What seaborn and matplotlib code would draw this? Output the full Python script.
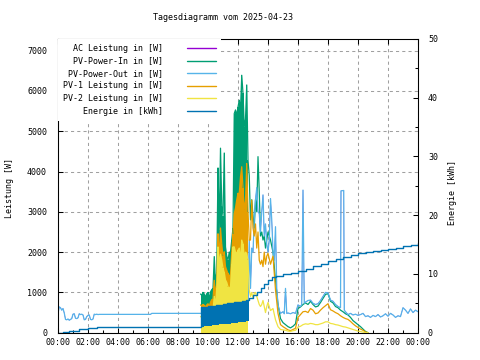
import pandas as pd
import matplotlib
matplotlib.use("Agg")
import matplotlib.pyplot as plt
import matplotlib.dates as mdates
from matplotlib.ticker import MultipleLocator
from matplotlib.lines import Line2D
import seaborn as sns

# gnuplot default colours
C_AC   = "#9400d3"
C_IN   = "#009e73"
C_OUT  = "#56b4e9"
C_PV1  = "#e69f00"
C_PV2  = "#f0e442"
C_E    = "#0072b2"
C_GRID = "#a0a0a0"

DAY = pd.Timestamp("2025-04-23")

# ── PV strings (W): 5 min until 14:00, then 10 min ─────────
pv_times = [
    "09:30", "09:35", "09:40", "09:45", "09:50", "09:55",
    "10:00", "10:05", "10:10", "10:15", "10:20", "10:25", "10:30", "10:35", "10:40", "10:45", "10:50", "10:55",
    "11:00", "11:05", "11:10", "11:15", "11:20", "11:25", "11:30", "11:35", "11:40", "11:45", "11:50", "11:55",
    "12:00", "12:05", "12:10", "12:15", "12:20", "12:25", "12:30", "12:35", "12:40", "12:45", "12:50", "12:55",
    "13:00", "13:05", "13:10", "13:15", "13:20", "13:25", "13:30", "13:35", "13:40", "13:45", "13:50", "13:55",
    "14:00", "14:10", "14:20", "14:30", "14:40", "14:50",
    "15:00", "15:10", "15:20", "15:30", "15:40", "15:50",
    "16:00", "16:10", "16:20", "16:30", "16:40", "16:50",
    "17:00", "17:10", "17:20", "17:30", "17:40", "17:50",
    "18:00", "18:10", "18:20", "18:30", "18:40", "18:50",
    "19:00", "19:10", "19:20", "19:30", "19:40", "19:50",
    "20:00", "20:10", "20:20", "20:30", "20:40",
]
pv_in = [
    960, 930, 1000, 960, 880, 970,
    1000, 850, 1010, 1070, 1100, 1890, 1250, 1500, 4090, 2550, 4580, 3150,
    2900, 4460, 2130, 1900, 1800, 2000, 2000, 2300, 2600, 5440, 5530, 5400,
    5600, 5770, 5530, 6390, 5940, 5110, 5300, 6150, 4280, 3900, 2800, 3300,
    2900, 2600, 3300, 3000, 4370, 3500, 2400, 2500, 2300, 2400, 2100, 2300,
    2500, 2300, 2000, 1300, 700, 350,
    250, 200, 150, 120, 160, 220,
    600, 640, 700, 740, 700, 780,
    700, 640, 660, 750, 850, 950,
    970, 780, 740, 650, 620, 560,
    520, 470, 440, 380, 300, 250,
    200, 150, 90, 30, 0,
]
pv1 = [
    690, 660, 700, 680, 640, 690,
    720, 650, 760, 820, 840, 1300, 980, 1200, 2460, 1900, 2600, 2200,
    1900, 2010, 1640, 1550, 1470, 1400, 1450, 2000, 2460, 2960, 3100, 3300,
    3460, 3460, 3870, 4120, 3600, 3040, 3290, 4200, 3000, 2300, 2300, 3290,
    2600, 2400, 2700, 2100, 2500, 1800, 1700, 1800, 1640, 2000, 1700, 1900,
    1970, 1700, 1900, 1060, 480, 200,
    150, 110, 70, 50, 80, 110,
    380, 450, 520, 530, 500, 600,
    560, 470, 490, 560, 620, 670,
    720, 570, 540, 500, 470, 420,
    380, 350, 330, 280, 220, 170,
    130, 90, 60, 20, 0,
]
pv2 = [
    400, 380, 420, 400, 380, 410,
    430, 400, 450, 500, 560, 900, 700, 1100, 2130, 1700, 1950, 1800,
    1600, 1500, 1310, 1250, 1140, 1100, 1150, 1700, 2130, 2130, 2000, 1970,
    2050, 2100, 1800, 2300, 2200, 1900, 2000, 1970, 1800, 1060, 900, 1000,
    850, 980, 1000, 900, 800, 700, 650, 700, 800, 650, 500, 650,
    750, 550, 600, 320, 150, 80,
    70, 60, 40, 30, 50, 60,
    140, 160, 200, 220, 210, 230,
    220, 200, 200, 220, 240, 270,
    270, 230, 220, 200, 190, 170,
    150, 140, 120, 100, 80, 60,
    40, 30, 15, 0, 0,
]

# ── PV-Power-Out / AC (W) ──────────────────────────────────
out_times = [
    "00:00", "00:05", "00:10", "00:15", "00:20", "00:25", "00:30", "00:35", "00:40", "00:45", "00:50", "00:55",
    "01:00", "01:05", "01:10", "01:15", "01:20", "01:25", "01:30", "01:35", "01:40", "01:45", "01:50", "01:55",
    "02:00", "02:05", "02:10", "02:15", "02:20", "02:25", "02:30", "02:35", "02:40", "02:45",
    "06:10", "06:15", "09:30", "12:40",
    "12:45", "12:50", "12:55", "13:00", "13:05", "13:10", "13:15", "13:20", "13:25", "13:30", "13:35", "13:40",
    "13:45", "13:50", "13:55", "14:00", "14:05", "14:10", "14:15", "14:20", "14:25", "14:30", "14:35", "14:40",
    "14:45", "14:50", "14:55", "15:00", "15:05", "15:10", "15:15", "15:20",
    "15:30", "15:40", "15:50", "16:00", "16:10", "16:15", "16:20", "16:25", "16:30", "16:40", "16:50",
    "17:00", "17:10", "17:20", "17:30", "17:40", "17:50", "18:00", "18:10", "18:20", "18:30", "18:40", "18:50",
    "18:52", "19:03", "19:05", "19:10", "19:20", "19:30", "19:40", "19:50",
    "20:00", "20:10", "20:20", "20:30", "20:40", "20:50", "21:00", "21:10", "21:20", "21:30", "21:40", "21:50",
    "22:00", "22:10", "22:20", "22:30", "22:40", "22:50", "23:00", "23:10", "23:20", "23:30", "23:40", "23:50",
    "24:00",
]
pv_out = [
    480, 640, 620, 560, 600, 490, 330, 320, 340, 310, 330, 350,
    460, 470, 360, 350, 370, 470, 450, 460, 440, 320, 330, 400,
    430, 440, 330, 320, 340, 460, 450, 460, 450, 455,
    455, 480, 480, 480,
    2300, 1100, 2100, 2000, 2800, 3300, 3600, 3000, 2960, 2500, 3000, 3420,
    2400, 2700, 2200, 2000, 2300, 3330, 2800, 2000, 1800, 2630, 1100, 700,
    560, 480, 500, 520, 470, 1100, 480, 490,
    470, 500, 480, 690, 650, 700, 3540, 730, 760, 800, 810,
    730, 700, 720, 800, 900, 1000, 990, 810, 780, 700, 650, 620,
    3520, 3530, 560, 520, 450, 480, 440, 460,
    430, 450, 480, 400, 420, 380, 430, 400, 450, 390, 420, 470,
    410, 480, 440, 380, 420, 400, 620, 560, 480, 590, 500, 560,
    520,
]

# ── Energie (kWh, right axis) ──────────────────────────────
energy_times = [
    "00:00", "00:20", "00:45", "01:25", "02:00", "02:35", "02:55",
    "09:30", "09:45", "10:00", "10:15", "10:30", "10:45", "11:00", "11:15", "11:30", "11:45",
    "12:00", "12:15", "12:30", "12:45", "13:00", "13:15", "13:30", "13:45", "14:00", "14:15", "14:30",
    "15:00", "15:30", "16:00", "16:30", "17:00", "17:30", "18:00", "18:30", "19:00", "19:30",
    "20:00", "20:30", "21:00", "21:30", "22:00", "22:30", "23:00", "23:30", "24:00",
]
energy = [
    0.0, 0.17, 0.34, 0.57, 0.74, 0.91, 1.05,
    4.40, 4.45, 4.55, 4.60, 4.70, 4.80, 4.90, 5.00, 5.10, 5.20,
    5.30, 5.45, 5.60, 5.85, 6.40, 7.00, 7.60, 8.30, 9.00, 9.40, 9.70,
    10.0, 10.2, 10.5, 10.9, 11.3, 11.7, 12.2, 12.5, 12.9, 13.2,
    13.5, 13.7, 13.9, 14.0, 14.3, 14.5, 14.7, 15.0, 15.2,
]
# second (lagging) counter that alternates with the first one in the morning
band_times = ["09:30", "09:45", "10:00", "10:15", "10:30", "10:45", "11:00",
              "11:15", "11:30", "11:45", "12:00", "12:15", "12:30", "12:45"]
band_low = [1.05, 1.10, 1.15, 1.25, 1.30, 1.40, 1.45,
            1.55, 1.60, 1.70, 1.80, 1.90, 2.00, 2.10]

LABELS = ["AC Leistung in [W]", "PV-Power-In in [W]", "PV-Power-Out in [W]",
          "PV-1 Leistung in [W]", "PV-2 Leistung in [W]", "Energie in [kWh]"]
COLORS = [C_AC, C_IN, C_OUT, C_PV1, C_PV2, C_E]


def to_time(lst):
    return DAY + pd.to_timedelta([s + ":00" for s in lst])


pv = pd.DataFrame({"time": to_time(pv_times), "pv_in": pv_in, "pv1": pv1, "pv2": pv2})
out = pd.DataFrame({"time": to_time(out_times), "pv_out": pv_out})
en = pd.DataFrame({"time": to_time(energy_times), "energy": energy})
band = pd.DataFrame({"time": to_time(band_times), "low": band_low}).merge(en, on="time")
dense = pv[pv["time"] <= DAY + pd.Timedelta("12:40:00")]

sns.set_theme(style="ticks")
plt.rcParams.update({
    "font.family": ["DejaVu Sans Mono", "DejaVu Sans"],
    "font.size": 6,
    "xtick.labelsize": 6,
    "ytick.labelsize": 6,
    "axes.labelsize": 6,
    "legend.fontsize": 6,
    "axes.edgecolor": "black",
    "axes.linewidth": 0.75,
    "xtick.color": "black",
    "ytick.color": "black",
    "text.color": "black",
    "axes.labelcolor": "black",
})

fig = plt.figure(figsize=(4.8, 3.6), dpi=100, facecolor="white")
ax = fig.add_axes([58 / 480, 1 - 332.7 / 360, 360 / 480, 293.7 / 360])
ax2 = ax.twinx()

kw = dict(estimator=None, lw=0.9)
# AC sits underneath PV-Power-Out (same readings)
sns.lineplot(data=out, x="time", y="pv_out", color=C_AC, ax=ax, zorder=1.5,
             estimator=None, lw=0.3)
ax.fill_between(dense["time"], 0, dense["pv_in"], step="mid", color=C_IN, lw=0, zorder=2)
sns.lineplot(data=pv, x="time", y="pv_in", color=C_IN, ax=ax, zorder=2.1, **kw)
sns.lineplot(data=out, x="time", y="pv_out", color=C_OUT, ax=ax, zorder=3, **kw)
ax.fill_between(dense["time"], 0, dense["pv1"], step="mid", color=C_PV1, lw=0, zorder=4)
sns.lineplot(data=pv, x="time", y="pv1", color=C_PV1, ax=ax, zorder=4.1, **kw)
ax.fill_between(dense["time"], 0, dense["pv2"], step="mid", color=C_PV2, lw=0, zorder=5)
sns.lineplot(data=pv, x="time", y="pv2", color=C_PV2, ax=ax, zorder=5.1, **kw)

ax2.fill_between(band["time"], band["low"], band["energy"], step="post", color=C_E, lw=0)
sns.lineplot(data=en, x="time", y="energy", color=C_E, ax=ax2, drawstyle="steps-post",
             estimator=None, lw=1.0)

# axes
ax.set_xlim(DAY, DAY + pd.Timedelta(days=1))
ax.set_ylim(0, 7290)
ax2.set_ylim(0, 50)
ax.set_yticks(range(0, 7001, 1000))
ax2.set_yticks(range(0, 51, 10))
ax2.yaxis.set_minor_locator(MultipleLocator(5))
ax.xaxis.set_major_locator(mdates.HourLocator(byhour=range(0, 24, 2)))
ax.xaxis.set_minor_locator(mdates.HourLocator())
ax.xaxis.set_major_formatter(mdates.DateFormatter("%H:%M"))

ax.grid(True, which="major", color=C_GRID, ls=(0, (3, 3)), lw=0.75)
ax.set_axisbelow(True)

ax.tick_params(axis="x", which="major", direction="in", length=3.6, width=0.75,
               top=True, bottom=True, pad=4, labelsize=6)
ax.tick_params(axis="x", which="minor", direction="in", length=2, width=0.75,
               top=False, bottom=True)
ax.tick_params(axis="y", direction="in", length=3.6, width=0.75, left=True, right=False,
               pad=7.9, labelsize=6)
ax2.tick_params(axis="y", which="major", direction="in", length=3.6, width=0.75, pad=7.2,
                labelsize=6)
ax2.tick_params(axis="y", which="minor", direction="in", length=2, width=0.75)

ax.set_xlabel("")
ax2.set_xlabel("")
ax.set_ylabel("Leistung [W]", fontsize=6)
ax2.set_ylabel("Energie [kWh]", fontsize=6)
ax.yaxis.set_label_coords(-0.121, 0.493)
ax2.yaxis.set_label_coords(1.082, 0.476)

fig.text(223 / 480, 1 - 18 / 360, "Tagesdiagramm vom 2025-04-23",
         ha="center", va="center", fontsize=6)

handles = [Line2D([], [], color=c, lw=1.0) for c in COLORS]
leg = ax2.legend(handles, LABELS, loc="upper left", bbox_to_anchor=(0, 1), borderaxespad=0,
                 markerfirst=False, frameon=True, facecolor="white", edgecolor="none",
                 framealpha=1, fancybox=False, fontsize=6, handlelength=3.4,
                 handletextpad=2.9, borderpad=0.6, labelspacing=0.42)

fig.savefig("out.png", dpi=100, facecolor="white")
